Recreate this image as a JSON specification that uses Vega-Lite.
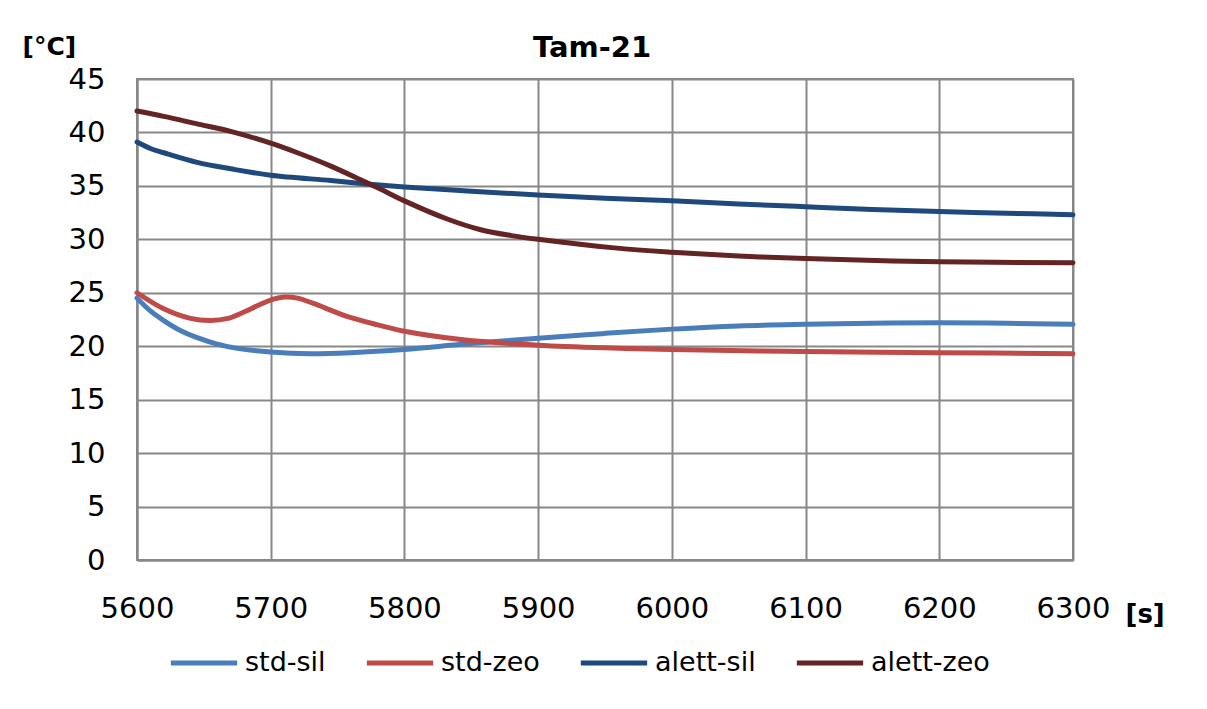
{
  "$schema": "https://vega.github.io/schema/vega-lite/v6.json",
  "autosize": {"type": "none"},
  "padding": {"left": 137, "top": 79, "right": 134, "bottom": 149},
  "width": 936,
  "height": 481,
  "background": "white",
  "title": {"text": "Tam-21", "font": "DejaVu Sans", "fontSize": 29, "fontWeight": "bold", "color": "black", "offset": 14, "dx": -13, "dy": 43},
  "data": {"values": [
    {"t": 5600, "v": 24.5, "s": "std-sil"},
    {"t": 5610, "v": 23.3, "s": "std-sil"},
    {"t": 5620, "v": 22.4, "s": "std-sil"},
    {"t": 5632, "v": 21.5, "s": "std-sil"},
    {"t": 5645, "v": 20.8, "s": "std-sil"},
    {"t": 5660, "v": 20.2, "s": "std-sil"},
    {"t": 5675, "v": 19.8, "s": "std-sil"},
    {"t": 5700, "v": 19.45, "s": "std-sil"},
    {"t": 5730, "v": 19.3, "s": "std-sil"},
    {"t": 5760, "v": 19.4, "s": "std-sil"},
    {"t": 5800, "v": 19.7, "s": "std-sil"},
    {"t": 5845, "v": 20.2, "s": "std-sil"},
    {"t": 5900, "v": 20.75, "s": "std-sil"},
    {"t": 5950, "v": 21.2, "s": "std-sil"},
    {"t": 6000, "v": 21.6, "s": "std-sil"},
    {"t": 6050, "v": 21.9, "s": "std-sil"},
    {"t": 6100, "v": 22.05, "s": "std-sil"},
    {"t": 6150, "v": 22.15, "s": "std-sil"},
    {"t": 6200, "v": 22.2, "s": "std-sil"},
    {"t": 6250, "v": 22.15, "s": "std-sil"},
    {"t": 6300, "v": 22.05, "s": "std-sil"},
    {"t": 5600, "v": 25.0, "s": "std-zeo"},
    {"t": 5620, "v": 23.5, "s": "std-zeo"},
    {"t": 5640, "v": 22.6, "s": "std-zeo"},
    {"t": 5655, "v": 22.4, "s": "std-zeo"},
    {"t": 5668, "v": 22.6, "s": "std-zeo"},
    {"t": 5680, "v": 23.2, "s": "std-zeo"},
    {"t": 5692, "v": 23.9, "s": "std-zeo"},
    {"t": 5702, "v": 24.4, "s": "std-zeo"},
    {"t": 5710, "v": 24.6, "s": "std-zeo"},
    {"t": 5720, "v": 24.5, "s": "std-zeo"},
    {"t": 5732, "v": 24.0, "s": "std-zeo"},
    {"t": 5757, "v": 22.8, "s": "std-zeo"},
    {"t": 5780, "v": 22.0, "s": "std-zeo"},
    {"t": 5800, "v": 21.4, "s": "std-zeo"},
    {"t": 5844, "v": 20.6, "s": "std-zeo"},
    {"t": 5900, "v": 20.1, "s": "std-zeo"},
    {"t": 5950, "v": 19.85, "s": "std-zeo"},
    {"t": 6000, "v": 19.7, "s": "std-zeo"},
    {"t": 6100, "v": 19.5, "s": "std-zeo"},
    {"t": 6200, "v": 19.4, "s": "std-zeo"},
    {"t": 6300, "v": 19.3, "s": "std-zeo"},
    {"t": 5600, "v": 39.1, "s": "alett-sil"},
    {"t": 5610, "v": 38.5, "s": "alett-sil"},
    {"t": 5620, "v": 38.1, "s": "alett-sil"},
    {"t": 5645, "v": 37.2, "s": "alett-sil"},
    {"t": 5670, "v": 36.6, "s": "alett-sil"},
    {"t": 5700, "v": 36.0, "s": "alett-sil"},
    {"t": 5745, "v": 35.5, "s": "alett-sil"},
    {"t": 5770, "v": 35.2, "s": "alett-sil"},
    {"t": 5800, "v": 34.9, "s": "alett-sil"},
    {"t": 5850, "v": 34.5, "s": "alett-sil"},
    {"t": 5900, "v": 34.15, "s": "alett-sil"},
    {"t": 5950, "v": 33.85, "s": "alett-sil"},
    {"t": 6000, "v": 33.6, "s": "alett-sil"},
    {"t": 6050, "v": 33.3, "s": "alett-sil"},
    {"t": 6100, "v": 33.05, "s": "alett-sil"},
    {"t": 6150, "v": 32.8, "s": "alett-sil"},
    {"t": 6200, "v": 32.6, "s": "alett-sil"},
    {"t": 6250, "v": 32.45, "s": "alett-sil"},
    {"t": 6300, "v": 32.3, "s": "alett-sil"},
    {"t": 5600, "v": 42.0, "s": "alett-zeo"},
    {"t": 5620, "v": 41.5, "s": "alett-zeo"},
    {"t": 5645, "v": 40.8, "s": "alett-zeo"},
    {"t": 5670, "v": 40.1, "s": "alett-zeo"},
    {"t": 5700, "v": 39.0, "s": "alett-zeo"},
    {"t": 5720, "v": 38.1, "s": "alett-zeo"},
    {"t": 5745, "v": 36.85, "s": "alett-zeo"},
    {"t": 5770, "v": 35.4, "s": "alett-zeo"},
    {"t": 5782, "v": 34.7, "s": "alett-zeo"},
    {"t": 5800, "v": 33.6, "s": "alett-zeo"},
    {"t": 5832, "v": 31.9, "s": "alett-zeo"},
    {"t": 5857, "v": 30.9, "s": "alett-zeo"},
    {"t": 5880, "v": 30.35, "s": "alett-zeo"},
    {"t": 5900, "v": 30.0, "s": "alett-zeo"},
    {"t": 5957, "v": 29.2, "s": "alett-zeo"},
    {"t": 6000, "v": 28.8, "s": "alett-zeo"},
    {"t": 6050, "v": 28.45, "s": "alett-zeo"},
    {"t": 6100, "v": 28.2, "s": "alett-zeo"},
    {"t": 6200, "v": 27.9, "s": "alett-zeo"},
    {"t": 6300, "v": 27.8, "s": "alett-zeo"}
  ]},
  "mark": {"type": "line", "interpolate": "catmull-rom", "strokeWidth": 5, "strokeCap": "round"},
  "encoding": {
    "x": {
      "field": "t", "type": "quantitative",
      "scale": {"domain": [5600, 6300], "nice": false, "zero": false},
      "axis": {
        "values": [5600, 5700, 5800, 5900, 6000, 6100, 6200, 6300], "format": "d",
        "title": "[s]", "titleFont": "DejaVu Sans", "titleFontSize": 26, "titleFontWeight": "bold", "titleColor": "black",
        "titleAngle": 0, "titleAlign": "left", "titleBaseline": "middle", "titleX": 988, "titleY": 54,
        "labelFont": "DejaVu Sans", "labelFontSize": 29, "labelColor": "black", "labelPadding": 34,
        "ticks": false, "domainColor": "#888888", "domainWidth": 2,
        "grid": true, "gridColor": "#888888", "gridWidth": 2, "labelFlush": false
      }
    },
    "y": {
      "field": "v", "type": "quantitative",
      "scale": {"domain": [0, 45], "nice": false},
      "axis": {
        "values": [0, 5, 10, 15, 20, 25, 30, 35, 40, 45],
        "title": "[°C]", "titleFont": "DejaVu Sans", "titleFontSize": 25, "titleFontWeight": "bold", "titleColor": "black",
        "titleAngle": 0, "titleAlign": "left", "titleBaseline": "alphabetic", "titleX": -115, "titleY": -25,
        "labelFont": "DejaVu Sans", "labelFontSize": 29, "labelColor": "black", "labelPadding": 32,
        "ticks": false, "domainColor": "#888888", "domainWidth": 2,
        "grid": true, "gridColor": "#888888", "gridWidth": 2, "labelFlush": false
      }
    },
    "color": {
      "field": "s", "type": "nominal",
      "scale": {"domain": ["std-sil", "std-zeo", "alett-sil", "alett-zeo"], "range": ["#4A7EBB", "#BE4B48", "#1F497D", "#632423"]},
      "legend": {
        "title": null, "orient": "none", "direction": "horizontal", "legendX": 31, "legendY": 548,
        "symbolType": "stroke", "symbolSize": 4400, "symbolStrokeWidth": 5,
        "labelFont": "DejaVu Sans", "labelFontSize": 27, "labelColor": "black", "labelOffset": 5,
        "columnPadding": 30, "symbolOffset": 0
      }
    }
  },
  "config": {"view": {"stroke": "#888888", "strokeWidth": 2}}
}
